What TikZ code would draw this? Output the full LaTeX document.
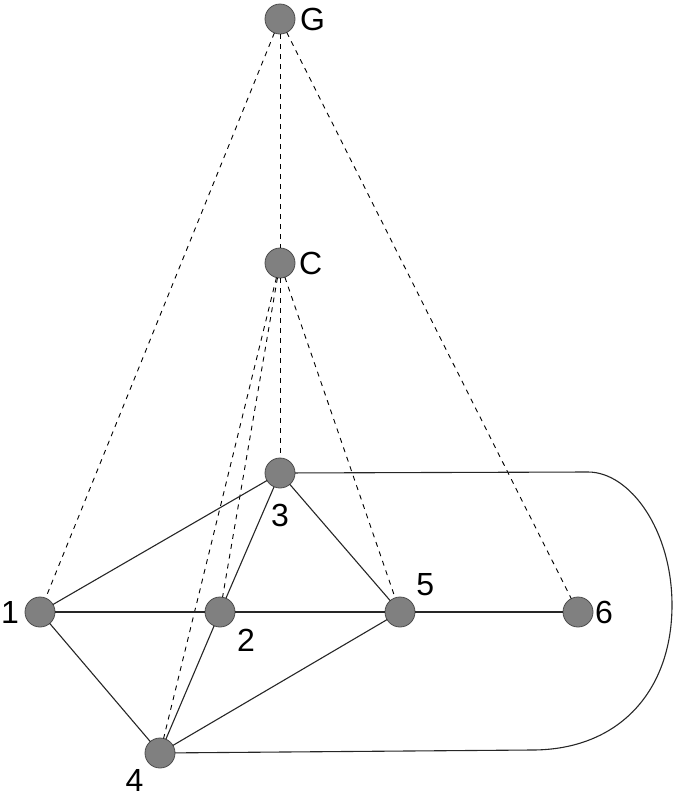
\documentclass[tikz,border=0pt]{standalone}
\usepackage{fontspec}
\setmainfont{Liberation Sans}
\usepackage{tkz-graph}
\usetikzlibrary{arrows}

\begin{document}
\begin{tikzpicture}[x=1pt,y=-1pt]
	\useasboundingbox (0,0) rectangle (676,804);
	\tikzset{VertexStyle/.style = {shape=circle, fill=black!50, draw=black!70,
			line width=0.8pt, minimum size=30pt, inner sep=0pt},
		EdgeStyle/.style = {draw=black!85, line width=1.1pt},
		every label/.style = {inner sep=0pt, font=\fontsize{32}{34}\selectfont}}
		\SetVertexNoLabel
	\begin{scope}[VertexStyle/.append style = {label={[label distance=5pt]right:G}}]
		\Vertex[x=280 ,y=19]{G}
	\end{scope}
	\begin{scope}[VertexStyle/.append style = {label={[label distance=4pt]right:C}}]
		\Vertex[x=280 ,y=263]{C}
	\end{scope}
	\begin{scope}[VertexStyle/.append style = {label={[label distance=16pt]below:3}}]
		\Vertex[x=280 ,y=473]{3}
	\end{scope}
	\begin{scope}[VertexStyle/.append style = {label={[label distance=6pt]left:1}}]
		\Vertex[x=40 ,y=612]{1}
	\end{scope}
	\begin{scope}[VertexStyle/.append style = {label={[label distance=9pt]below right:2}}]
		\Vertex[x=220 ,y=612]{2}
	\end{scope}
	\begin{scope}[VertexStyle/.append style = {label={[label distance=8pt]above right:5}}]
		\Vertex[x=400 ,y=612]{5}
	\end{scope}
	\begin{scope}[VertexStyle/.append style = {label={[label distance=2pt]right:6}}]
		\Vertex[x=578 ,y=612]{6}
	\end{scope}
	\begin{scope}[VertexStyle/.append style = {label={[label distance=8pt]below left:4}}]
		\Vertex[x=160 ,y=753]{4}
	\end{scope}
	% dashed edges to G and C
	\begin{scope}[on background layer/.try]
	\tikzset{EdgeStyle/.style = {draw=black, line width=0.9pt, dash pattern=on 5pt off 5pt}}
		\Edge(G)(1)
		\Edge(G)(C)
		\Edge(G)(6)
		\Edge(C)(3)
		\Edge(C)(2)
		\Edge(C)(4)
		\Edge(C)(5)
	\end{scope}
		\Edge(1)(3)
		\Edge(1)(2)
		\Edge(1)(4)
		\Edge(2)(3)
		\Edge(2)(5)
		\Edge(2)(4)
		\Edge(3)(5)
		\Edge(4)(5)
		\Edge(5)(6)
	% loop from 3 round to 4
	\coordinate (loopTop) at (588,472);
	\coordinate (loopRight) at (672,605);
	\coordinate (loopBot) at (532,750);
	\draw[EdgeStyle] (3) -- (loopTop)
		.. controls (630,472) and (672,530) .. (loopRight)
		.. controls (672,690) and (620,750) .. (loopBot) -- (4);
\end{tikzpicture}
\end{document}
